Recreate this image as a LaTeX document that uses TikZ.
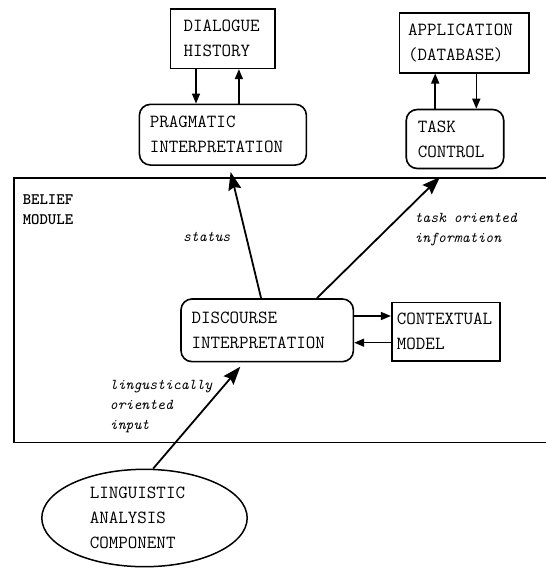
\documentclass[tikz,border=0pt]{standalone}
\usetikzlibrary{shapes.geometric,arrows.meta}
\newcommand\boxfnt{\ttfamily\fontsize{18.5}{25}\selectfont}
\newcommand\labfnt{\ttfamily\itshape\fontsize{15}{20}\selectfont}
\newcommand\modfnt{\ttfamily\bfseries\fontsize{16}{20}\selectfont}
\begin{document}
\begin{tikzpicture}[x=1pt,y=-1pt,
  sq/.style={draw,line width=1.6pt,align=left,inner ysep=0pt,font=\boxfnt},
  rnd/.style={sq,rounded corners=11pt},
  lab/.style={inner sep=0pt,anchor=west,align=left,font=\labfnt},
  small/.style={line width=1.5pt,-{Triangle[length=10pt,width=8pt]}},
  big/.style={line width=1.8pt,-{Stealth[length=18pt,width=13pt,inset=2.5pt]}}]
\useasboundingbox (0,0) rectangle (546,568);
% belief module frame
\draw[line width=1.3pt] (546,178) -- (13.9,178) -- (13.9,442.3) -- (546,442.3);
% boxes
\node[sq, text width=78.7pt, inner xsep=12.9pt, minimum height=59.3pt] (dh) at (222.9,38.7) {DIALOGUE\\HISTORY};
\node[rnd, text width=146.2pt, inner xsep=10.4pt, minimum height=60.7pt] (pi) at (222.9,134.7) {PRAGMATIC\\INTERPRETATION};
\node[sq, text width=112.4pt, inner xsep=8.7pt, minimum height=60pt] (app) at (464.3,42.7) {APPLICATION\\(DATABASE)};
\node[rnd, text width=74.5pt, inner xsep=11.5pt, minimum height=59pt] (tc) at (455,139) {TASK\\CONTROL};
\node[rnd, text width=151.4pt, inner xsep=10.5pt, minimum height=62.7pt] (di) at (267.2,330.3) {DISCOURSE\\INTERPRETATION};
\node[sq, text width=97.6pt, inner xsep=5.2pt, minimum height=58.7pt] (cm) at (445.7,331.7) {CONTEXTUAL\\MODEL};
\node[draw, ellipse, line width=1.5pt, inner sep=0pt, text width=109.4pt, align=left, minimum width=205.4pt, minimum height=97.4pt, font=\boxfnt] (lac) at (144.5,518) {LINGUISTIC\\ANALYSIS\\COMPONENT};
% labels
\node[font=\modfnt, inner sep=0pt, anchor=west, align=left] (bm) at (22.6,209.3) {BELIEF\\MODULE};
\node[lab] (st) at (182.8,236.7) {status};
\node[lab] (to) at (414.3,229.3) {task oriented\\information};
\node[lab] (lo) at (109.7,406.5) {lingustically\\oriented\\input};
% small arrows
\draw[small] ([xshift=-26.9pt]dh.south) -- ([xshift=-26.9pt]pi.north);
\draw[small] ([xshift=16pt]pi.north) -- ([xshift=16pt]dh.south);
\draw[small] ([xshift=-19.8pt]tc.north) -- ([xshift=-29.1pt]app.south);
\draw[small] ([xshift=12pt]app.south) -- ([xshift=21.3pt]tc.north);
\draw[small] ([yshift=14.3pt]di.east) -- ([yshift=15.7pt]cm.west);
\draw[small] ([yshift=-11pt]cm.west) -- ([yshift=-12.4pt]di.east);
% big arrows
\coordinate (stp) at (230.6,172);
\coordinate (ttp) at (440,177);
\coordinate (ltp) at (240.3,366.7);
\draw[big] ([xshift=-6.1pt]di.north) -- (stp);
\draw[big] ([xshift=49.7pt]di.north) -- (ttp);
\draw[big] ([xshift=8.7pt]lac.north) -- (ltp);
\end{tikzpicture}
\end{document}
